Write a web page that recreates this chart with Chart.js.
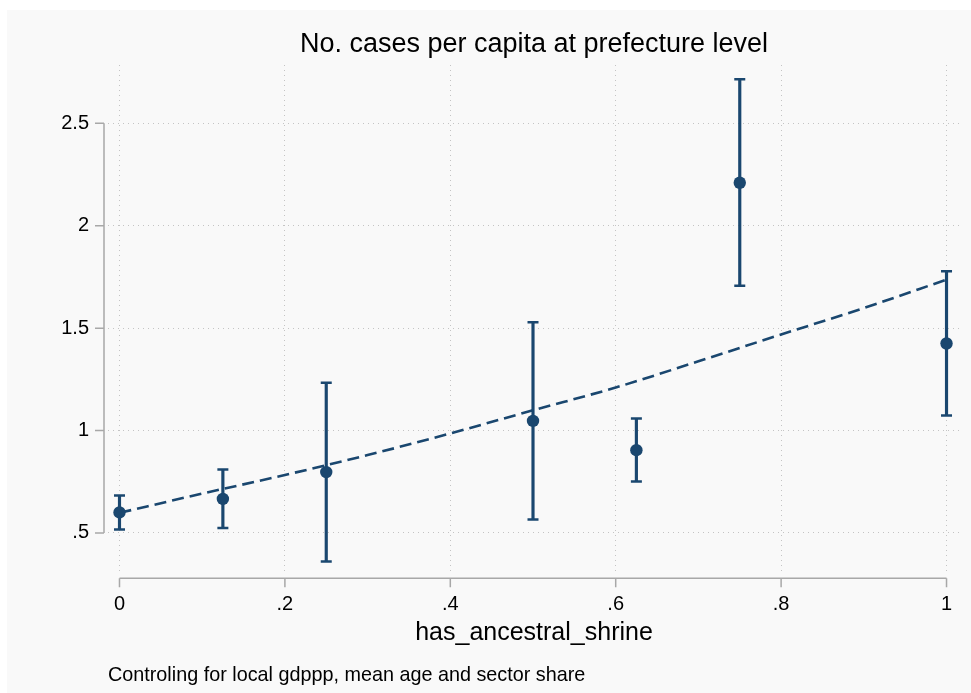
<!DOCTYPE html>
<html>
<head>
<meta charset="utf-8">
<title>No. cases per capita at prefecture level</title>
<script src="https://cdn.jsdelivr.net/npm/chart.js@4.4.1/dist/chart.umd.min.js"></script>
<style>
  html, body { margin: 0; padding: 0; background: #ffffff; }
  #wrap { width: 971px; height: 693px; }
</style>
</head>
<body>
<div id="wrap"><canvas id="shrineChart" width="971" height="693"></canvas></div>
<script>
// group means of cases per capita by ancestral shrine share, with 95% CIs
const shrineShare = [0, 0.125, 0.25, 0.5, 0.625, 0.75, 1];
const casesMean   = [0.600, 0.666, 0.797, 1.047, 0.904, 2.210, 1.425];
const ciLower     = [0.517, 0.524, 0.360, 0.565, 0.751, 1.707, 1.074];
const ciUpper     = [0.683, 0.810, 1.233, 1.529, 1.059, 2.715, 1.778];

// fitted prediction, read every 0.1
const fitX = [0, 0.1, 0.2, 0.3, 0.4, 0.5, 0.6, 0.7, 0.8, 0.9, 1];
const fitY = [0.598, 0.692, 0.783, 0.880, 0.986, 1.099, 1.210, 1.338, 1.469, 1.598, 1.737];

const xTicks = [0, 0.2, 0.4, 0.6, 0.8, 1];
const xTickLabels = ['0', '.2', '.4', '.6', '.8', '1'];
const yTicks = [0.5, 1, 1.5, 2, 2.5];
const yTickLabels = ['.5', '1', '1.5', '2', '2.5'];

const NAVY = '#1a476f';
const FONT = '"Liberation Sans", Arial, Helvetica, sans-serif';

Chart.defaults.font.family = FONT;
Chart.defaults.color = '#000000';

// light gray graph region plus stata-style axis lines (tick range only)
const stataFrame = {
  id: 'stataFrame',
  beforeDraw(chart) {
    const ctx = chart.ctx;
    ctx.save();
    ctx.fillStyle = '#ffffff';
    ctx.fillRect(0, 0, chart.width, chart.height);
    ctx.fillStyle = '#f9f9f9';
    ctx.fillRect(7, 10, chart.width - 7, chart.height - 10);
    ctx.restore();
  },
  afterDraw(chart) {
    const { ctx, chartArea, scales: { x, y } } = chart;
    const axisX = chartArea.left - 4;
    const axisY = chartArea.bottom + 6;
    ctx.save();
    ctx.strokeStyle = '#a8a8a8';
    ctx.lineWidth = 1.5;
    ctx.beginPath();
    ctx.moveTo(axisX, y.getPixelForValue(yTicks[0]));
    ctx.lineTo(axisX, y.getPixelForValue(yTicks[yTicks.length - 1]));
    yTicks.forEach(v => {
      const py = y.getPixelForValue(v);
      ctx.moveTo(axisX - 9, py);
      ctx.lineTo(axisX, py);
    });
    ctx.moveTo(x.getPixelForValue(xTicks[0]), axisY);
    ctx.lineTo(x.getPixelForValue(xTicks[xTicks.length - 1]), axisY);
    xTicks.forEach(v => {
      const px = x.getPixelForValue(v);
      ctx.moveTo(px, axisY);
      ctx.lineTo(px, axisY + 9);
    });
    ctx.stroke();
    ctx.restore();
  }
};

const ciBars = shrineShare.map((x, i) => ({ x: x, y: [ciLower[i], ciUpper[i]] }));
const ciCaps = shrineShare.flatMap((x, i) => [{ x: x, y: ciLower[i] }, { x: x, y: ciUpper[i] }]);
const means = shrineShare.map((x, i) => ({ x: x, y: casesMean[i] }));
const fitLine = fitX.map((x, i) => ({ x: x, y: fitY[i] }));

new Chart(document.getElementById('shrineChart'), {
  type: 'scatter',
  data: {
    datasets: [
      {
        type: 'bar',
        label: 'CI',
        data: ciBars,
        backgroundColor: NAVY,
        borderWidth: 0,
        barThickness: 2.5,
        order: 3
      },
      {
        type: 'scatter',
        label: 'CI caps',
        data: ciCaps,
        pointStyle: 'line',
        pointRadius: 5.5,
        borderColor: NAVY,
        borderWidth: 2.5,
        order: 2
      },
      {
        type: 'line',
        label: 'Fit',
        data: fitLine,
        borderColor: NAVY,
        borderWidth: 2.6,
        borderDash: [12, 6],
        pointRadius: 0,
        fill: false,
        cubicInterpolationMode: 'monotone',
        order: 4
      },
      {
        type: 'scatter',
        label: 'Mean',
        data: means,
        pointStyle: 'circle',
        pointRadius: 6.2,
        backgroundColor: NAVY,
        borderColor: NAVY,
        borderWidth: 0,
        order: 1
      }
    ]
  },
  options: {
    responsive: false,
    animation: false,
    layout: {
      padding: { top: 10, left: 7, right: 11, bottom: 0 }
    },
    plugins: {
      legend: { display: false },
      tooltip: { enabled: false },
      title: {
        display: true,
        text: 'No. cases per capita at prefecture level',
        fullSize: false,
        color: '#000000',
        font: { size: 27, weight: 'normal' },
        padding: { top: 18.8, bottom: 3.8 }
      },
      subtitle: {
        display: true,
        position: 'bottom',
        align: 'start',
        text: 'Controling for local gdppp, mean age and sector share',
        fullSize: false,
        color: '#000000',
        font: { size: 19.8, weight: 'normal' },
        padding: { top: 4, bottom: 6 }
      }
    },
    scales: {
      x: {
        type: 'linear',
        min: -0.0139,
        max: 1.0163,
        offset: false,
        afterBuildTicks: s => { s.ticks = xTicks.map(v => ({ value: v })); },
        afterFit: s => { s.height = 87; s.paddingLeft = 0; s.paddingRight = 0; },
        ticks: {
          padding: 20,
          color: '#000000',
          font: { size: 20 },
          maxRotation: 0,
          callback: (v, i) => xTickLabels[i]
        },
        grid: { color: '#c4c4c4', lineWidth: 1, drawTicks: false, offset: false },
        border: { display: false, dash: [1, 4] },
        title: {
          display: true,
          text: 'has_ancestral_shrine',
          color: '#000000',
          font: { size: 25 },
          padding: { top: 0, bottom: 11 }
        }
      },
      y: {
        type: 'linear',
        min: 0.308,
        max: 2.785,
        afterBuildTicks: s => { s.ticks = yTicks.map(v => ({ value: v })); },
        afterFit: s => { s.width = 101; s.paddingTop = 0; s.paddingBottom = 0; },
        ticks: {
          padding: 19,
          color: '#000000',
          font: { size: 20 },
          callback: (v, i) => yTickLabels[i]
        },
        grid: { color: '#c4c4c4', lineWidth: 1, drawTicks: false },
        border: { display: false, dash: [1, 4] }
      }
    }
  },
  plugins: [stataFrame]
});
</script>
</body>
</html>
